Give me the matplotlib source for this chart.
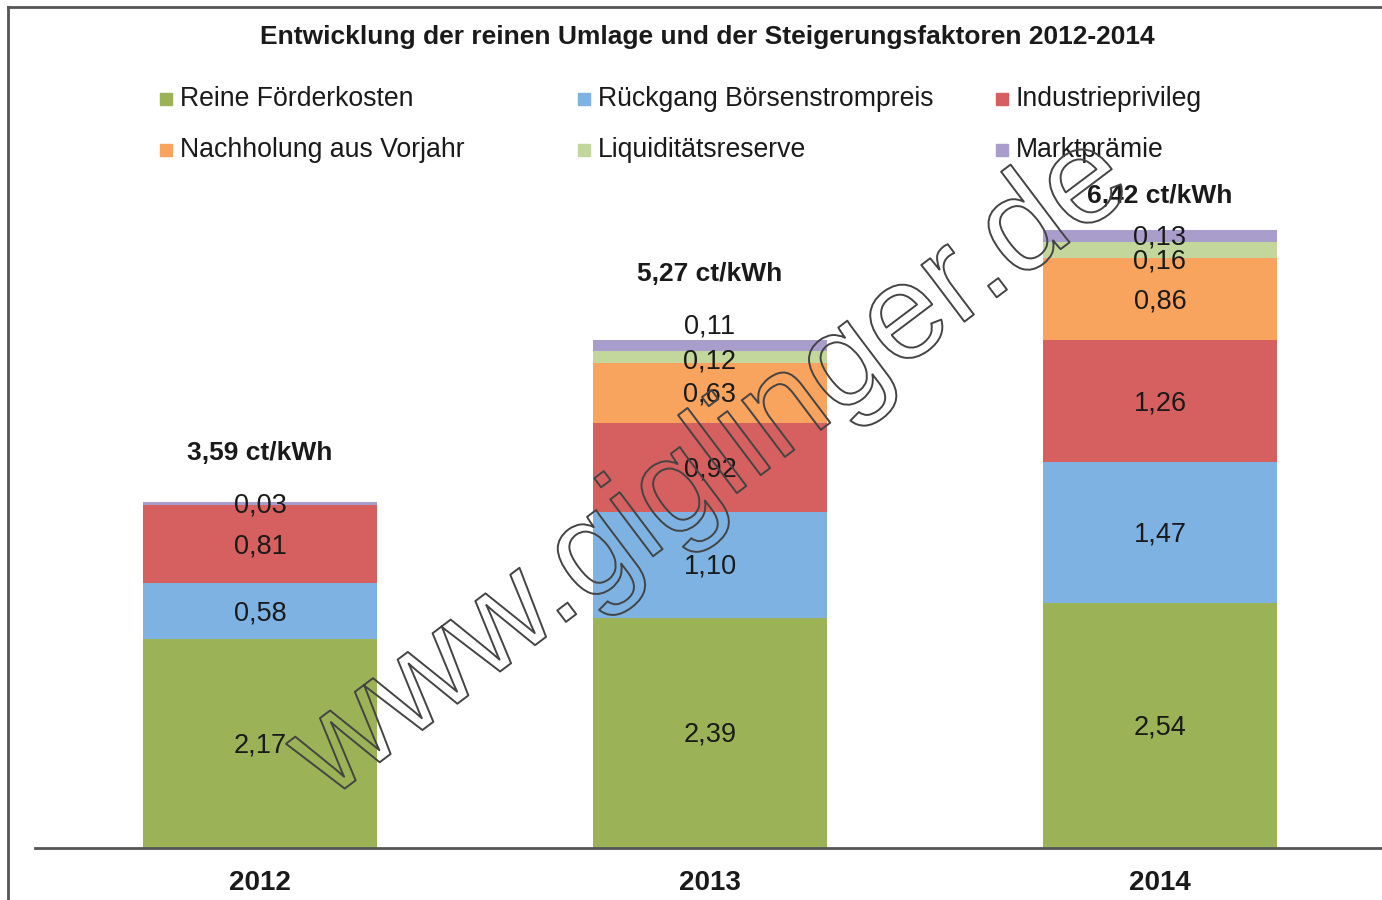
import matplotlib
matplotlib.use("Agg")
import matplotlib.pyplot as plt
import matplotlib.patches as mpatches
import matplotlib.patheffects as pe
import numpy as np

plt.rcParams['font.family'] = ['Liberation Sans', 'DejaVu Sans']

years = ["2012", "2013", "2014"]
series_names = ["Reine Förderkosten", "Rückgang Börsenstrompreis", "Industrieprivileg",
                "Nachholung aus Vorjahr", "Liquiditätsreserve", "Marktprämie"]
reine = [2.17, 2.39, 2.54]
rueckgang = [0.58, 1.10, 1.47]
industrie = [0.81, 0.92, 1.26]
nachholung = [0.0, 0.63, 0.86]
liquiditaet = [0.0, 0.12, 0.16]
marktpraemie = [0.03, 0.11, 0.13]
totals = ["3,59 ct/kWh", "5,27 ct/kWh", "6,42 ct/kWh"]

colors = ["#9bb356", "#7db2e2", "#d6605f", "#f8a35e", "#c3d79c", "#a99dcc"]

# label shifts in pixels (positive = down), per series / per year
label_shift = [[2, 2, 2], [2, 2, 2], [2, 2, 2],
               [0, 2, 2], [0, 5, 12], [2, -19, 1]]
total_gap = [49, 66, 34]

W, H = 1382, 900
fig = plt.figure(figsize=(W / 100, H / 100), dpi=100)

# axes: baseline at 848 px, 96.3 px per unit, bars 450 px apart
base_px, top_px = 848, 200
ppu = 96.3
left_px = 35
ax = fig.add_axes([left_px / W, (H - base_px) / H, 1 - left_px / W, (base_px - top_px) / H])
x = np.arange(len(years))
ax.set_xlim(-(260 - left_px) / 450, (W - 260) / 450)
ax.set_ylim(0, (base_px - top_px) / ppu)

data = [reine, rueckgang, industrie, nachholung, liquiditaet, marktpraemie]
bottom = np.zeros(len(years))
for si, vals in enumerate(data):
    vals = np.array(vals)
    ax.bar(x, vals, 0.52, bottom=bottom, color=colors[si], linewidth=0)
    for i, v in enumerate(vals):
        if v <= 0:
            continue
        ax.annotate(f"{v:.2f}".replace(".", ","), (x[i], bottom[i] + v / 2),
                    xytext=(0, -label_shift[si][i]), textcoords="offset pixels",
                    ha="center", va="center", fontsize=19.5, color="#1a1a1a")
    bottom += vals

for i, t in enumerate(totals):
    ax.annotate(t, (x[i], bottom[i]), xytext=(0, total_gap[i]), textcoords="offset pixels",
                ha="center", va="center", fontsize=19, fontweight="bold", color="#1a1a1a")

for s in ["top", "right", "left"]:
    ax.spines[s].set_visible(False)
ax.spines["bottom"].set_color("#555555")
ax.spines["bottom"].set_linewidth(2)
ax.set_yticks([])
ax.set_xticks(x)
ax.set_xticklabels(years, fontsize=20, fontweight="bold", color="#1a1a1a")
ax.tick_params(axis="x", length=0, pad=16)

# title
fig.text(707 / W, 1 - 37 / H, "Entwicklung der reinen Umlage und der Steigerungsfaktoren 2012-2014",
         ha="center", va="center", fontsize=19, fontweight="bold", color="#1a1a1a")

# legend, row-wise, three columns
for i, name in enumerate(series_names):
    col, row = i % 3, i // 3
    lx = (160 + col * 418) / W
    ly = 1 - (99 + row * 51) / H
    fig.patches.append(mpatches.Rectangle((lx, ly - 6 / H), 12 / W, 12 / H,
                                          transform=fig.transFigure, color=colors[i]))
    fig.text(lx + 20 / W, ly, name, ha="left", va="center", fontsize=19.2, color="#1a1a1a")

# frame on left and top
fig.add_artist(plt.Line2D([8 / W, 8 / W], [0, 1 - 7 / H], transform=fig.transFigure,
                          color="#555555", linewidth=2))
fig.add_artist(plt.Line2D([8 / W, 1], [1 - 7 / H, 1 - 7 / H], transform=fig.transFigure,
                          color="#555555", linewidth=2))

# watermark
wm = fig.text(712 / W, 1 - 468 / H, "www.giglinger.de", ha="center", va="center",
              fontsize=97, rotation=37, color="none", rotation_mode="anchor")
wm.set_path_effects([pe.Stroke(linewidth=1.4, foreground="#444444")])

fig.savefig("out.png", dpi=100)
